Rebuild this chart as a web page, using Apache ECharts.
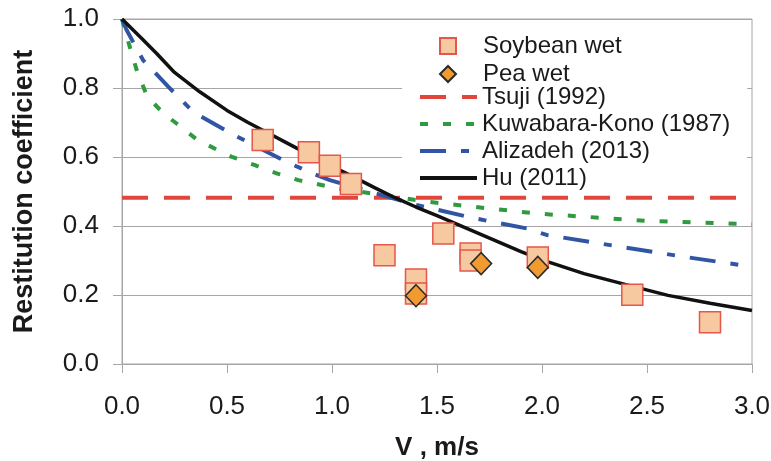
<!DOCTYPE html>
<html>
<head>
<meta charset="utf-8">
<script src="https://cdn.jsdelivr.net/npm/echarts@6/dist/echarts.min.js"></script>
<style>html,body{margin:0;padding:0;background:#fff}#c{width:771px;height:461px}</style>
</head>
<body>
<div id="c"></div>
<script>
// ---- data ----
const xTicks = [0, 0.5, 1.0, 1.5, 2.0, 2.5, 3.0];
const yTicks = [0, 0.2, 0.4, 0.6, 0.8, 1.0];

const soyV = [0.67, 0.89, 0.99, 1.09, 1.25, 1.53, 1.40, 1.40, 1.66, 1.66, 1.98, 2.43, 2.80];
const soyE = [0.649, 0.614, 0.575, 0.522, 0.315, 0.378, 0.245, 0.204, 0.320, 0.300, 0.309, 0.201, 0.121];

const peaV = [1.40, 1.71, 1.98];
const peaE = [0.198, 0.291, 0.280];

const tsujiV = [0, 3.0];
const tsujiE = [0.482, 0.482];

const kkV = [0, 0.03, 0.07, 0.12, 0.2, 0.26, 0.36, 0.52, 0.63, 0.74, 0.84, 0.95, 1.02, 1.24, 1.46, 1.67, 1.9, 2.0, 2.5, 3.0];
const kkE = [1.0, 0.934, 0.852, 0.775, 0.725, 0.697, 0.649, 0.601, 0.577, 0.552, 0.533, 0.519, 0.509, 0.49, 0.47, 0.456, 0.441, 0.435, 0.415, 0.405];

const alV = [0, 0.022, 0.1, 0.22, 0.34, 0.514, 0.6, 0.8, 0.91, 0.99, 1.2, 1.403, 1.681, 1.927, 2.022, 2.371, 2.673, 3.0];
const alE = [1.0, 0.968, 0.881, 0.804, 0.73, 0.67, 0.643, 0.581, 0.552, 0.533, 0.496, 0.461, 0.422, 0.393, 0.374, 0.340, 0.311, 0.282];

const huV = [0, 0.1, 0.165, 0.25, 0.37, 0.5, 0.6, 0.7, 0.8, 0.9, 1.0, 1.1, 1.2, 1.3, 1.4, 1.5, 1.6, 1.7, 1.8, 1.9, 2.0, 2.2, 2.4, 2.6, 2.8, 3.0];
const huE = [1.0, 0.94, 0.90, 0.845, 0.789, 0.735, 0.70, 0.668, 0.636, 0.604, 0.573, 0.543, 0.512, 0.482, 0.455, 0.43, 0.404, 0.378, 0.352, 0.326, 0.302, 0.262, 0.23, 0.199, 0.176, 0.155];

const names = ['Soybean wet', 'Pea wet', 'Tsuji (1992)', 'Kuwabara-Kono (1987)', 'Alizadeh (2013)', 'Hu (2011)'];

function pairs(xs, ys) { return xs.map((x, i) => [x, ys[i]]); }

const FONT = '"Liberation Sans", Arial, Helvetica, sans-serif';
const TXT = '#1a1a1a';
const GRID = '#a6a6a6';

const chart = echarts.init(document.getElementById('c'), null, { renderer: 'canvas' });
chart.setOption({
  animation: false,
  backgroundColor: '#fff',
  textStyle: { fontFamily: FONT },
  grid: { left: 122, right: 19, top: 19, bottom: 97, show: true, borderColor: GRID, borderWidth: 1,
    backgroundColor: 'transparent', containLabel: false, outerBoundsMode: 'none' },
  legend: [
    {
      // line items, also provides the white legend box
      orient: 'vertical',
      left: 402, top: 27,
      padding: [58, 17, 4, 16],
      backgroundColor: '#fff',
      itemWidth: 57, itemHeight: 16, itemGap: 3,
      itemStyle: { opacity: 0 },
      lineStyle: { width: 4 },
      textStyle: { fontFamily: FONT, fontSize: 24, color: TXT },
      data: names.slice(2),
      z: 10
    },
    {
      orient: 'vertical',
      left: 439, top: 34,
      padding: 0,
      itemWidth: 16, itemHeight: 16, itemGap: 4,
      textStyle: { fontFamily: FONT, fontSize: 24, color: TXT, padding: [0, 0, 0, 22] },
      data: names.slice(0, 2),
      z: 11
    }
  ],
  xAxis: {
    type: 'value', min: 0, max: 3, interval: 0.5,
    name: 'V , m/s', nameLocation: 'middle', nameGap: 71,
    nameTextStyle: { fontFamily: FONT, fontSize: 26, fontWeight: 'bold', color: TXT },
    axisLine: { show: true, lineStyle: { color: GRID, width: 1 } },
    axisTick: { show: true, inside: false, length: 9, lineStyle: { color: GRID } },
    axisLabel: { margin: 30, fontSize: 26, lineHeight: 26, color: TXT, fontFamily: FONT, formatter: v => v.toFixed(1),
      customValues: xTicks },
    splitLine: { show: false }
  },
  yAxis: {
    type: 'value', min: 0, max: 1, interval: 0.2,
    name: 'Restitution coefficient', nameLocation: 'middle', nameGap: 84, nameRotate: 90,
    nameTextStyle: { fontFamily: FONT, fontSize: 27, fontWeight: 'bold', color: TXT },
    axisLine: { show: true, lineStyle: { color: GRID, width: 1 } },
    axisTick: { show: true, inside: false, length: 9, lineStyle: { color: GRID } },
    axisLabel: { margin: 23, fontSize: 26, color: TXT, fontFamily: FONT, padding: [5, 0, 0, 0], formatter: v => v.toFixed(1),
      customValues: yTicks },
    splitLine: { show: true, lineStyle: { color: GRID, width: 1 } }
  },
  series: [
    {
      name: names[0], type: 'scatter', data: pairs(soyV, soyE), z: 5,
      symbol: 'rect', symbolSize: 21,
      itemStyle: { color: '#F7C9A0', borderColor: '#E5574A', borderWidth: 1.5, opacity: 1 }
    },
    {
      name: names[1], type: 'scatter', data: pairs(peaV, peaE), z: 6,
      symbol: 'diamond', symbolSize: [21, 22],
      itemStyle: { color: '#F09A30', borderColor: '#2a2a2a', borderWidth: 1.5, opacity: 1 }
    },
    {
      name: names[2], type: 'line', data: pairs(tsujiV, tsujiE), z: 2,
      symbol: 'none', showSymbol: false,
      lineStyle: { color: '#E2453C', width: 4, type: [26, 16] },
      itemStyle: { color: '#E2453C' }
    },
    {
      name: names[3], type: 'line', data: pairs(kkV, kkE), z: 2,
      symbol: 'none', showSymbol: false,
      lineStyle: { color: '#2F9A3F', width: 4, type: [8, 15] },
      itemStyle: { color: '#2F9A3F' }
    },
    {
      name: names[4], type: 'line', data: pairs(alV, alE), z: 2,
      symbol: 'none', showSymbol: false,
      lineStyle: { color: '#3155A4', width: 4, type: [26, 15, 8, 15] },
      itemStyle: { color: '#3155A4' }
    },
    {
      name: names[5], type: 'line', data: pairs(huV, huE), z: 3,
      symbol: 'none', showSymbol: false,
      lineStyle: { color: '#111111', width: 3.5, type: 'solid' },
      itemStyle: { color: '#111111' }
    }
  ]
});
</script>
</body>
</html>
